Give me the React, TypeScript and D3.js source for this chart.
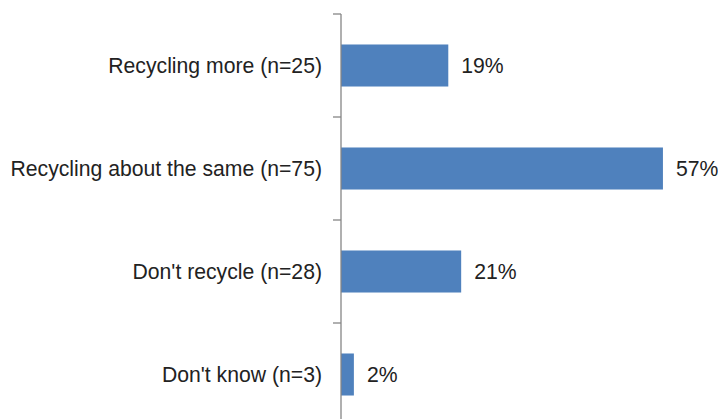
import React, { useEffect, useRef } from "react";
import * as d3 from "d3";

// categories, top to bottom
const categories = [
  "Recycling more (n=25)",
  "Recycling about the same (n=75)",
  "Don't recycle (n=28)",
  "Don't know (n=3)",
];
// share of respondents, percent (counts / 131)
const values = [19.08, 57.25, 21.37, 2.29];
const valueLabels = ["19%", "57%", "21%", "2%"];

const width = 718;
const height = 419;

export default function App() {
  const ref = useRef<SVGSVGElement | null>(null);

  useEffect(() => {
    if (!ref.current) return;
    const svg = d3.select(ref.current);
    svg.selectAll("*").remove();

    const x0 = 341;
    const x = d3.scaleLinear().domain([0, 60]).range([x0, x0 + 337.4]);
    const y = d3
      .scaleBand<string>()
      .domain(categories)
      .range([14, 426])
      .paddingInner(0.592)
      .paddingOuter(0.296);

    const font = "'Liberation Sans', Arial, sans-serif";
    const fontSize = 21.2;

    // bars
    svg
      .append("g")
      .selectAll("rect")
      .data(categories)
      .join("rect")
      .attr("x", x(0))
      .attr("y", (d) => y(d)!)
      .attr("width", (_, i) => x(values[i]) - x(0))
      .attr("height", y.bandwidth())
      .attr("fill", "#4f81bd");

    // value labels
    svg
      .append("g")
      .selectAll("text")
      .data(categories)
      .join("text")
      .attr("x", (_, i) => x(values[i]) + 13)
      .attr("y", (d) => y(d)! + y.bandwidth() / 2)
      .attr("dy", "0.37em")
      .attr("font-family", font)
      .attr("font-size", fontSize)
      .attr("fill", "#222")
      .text((_, i) => valueLabels[i]);

    // category axis: line with ticks at band boundaries
    const axis = svg.append("g").attr("stroke", "#868686").attr("stroke-width", 1.3);
    axis
      .append("line")
      .attr("x1", x0)
      .attr("x2", x0)
      .attr("y1", 14)
      .attr("y2", height + 10);
    const step = y.step();
    const bounds = d3.range(categories.length).map((i) => y.range()[0] + i * step);
    axis
      .selectAll("line.tick")
      .data(bounds)
      .join("line")
      .attr("class", "tick")
      .attr("x1", x0 - 8)
      .attr("x2", x0)
      .attr("y1", (d) => d)
      .attr("y2", (d) => d);

    // category labels
    svg
      .append("g")
      .selectAll("text")
      .data(categories)
      .join("text")
      .attr("x", 322)
      .attr("y", (d) => y(d)! + y.bandwidth() / 2)
      .attr("dy", "0.37em")
      .attr("text-anchor", "end")
      .attr("font-family", font)
      .attr("font-size", fontSize)
      .attr("fill", "#222")
      .text((d) => d);
  }, []);

  return (
    <svg
      ref={ref}
      width={width}
      height={height}
      style={{ position: "absolute", left: 0, top: 0, background: "#fff" }}
    />
  );
}
